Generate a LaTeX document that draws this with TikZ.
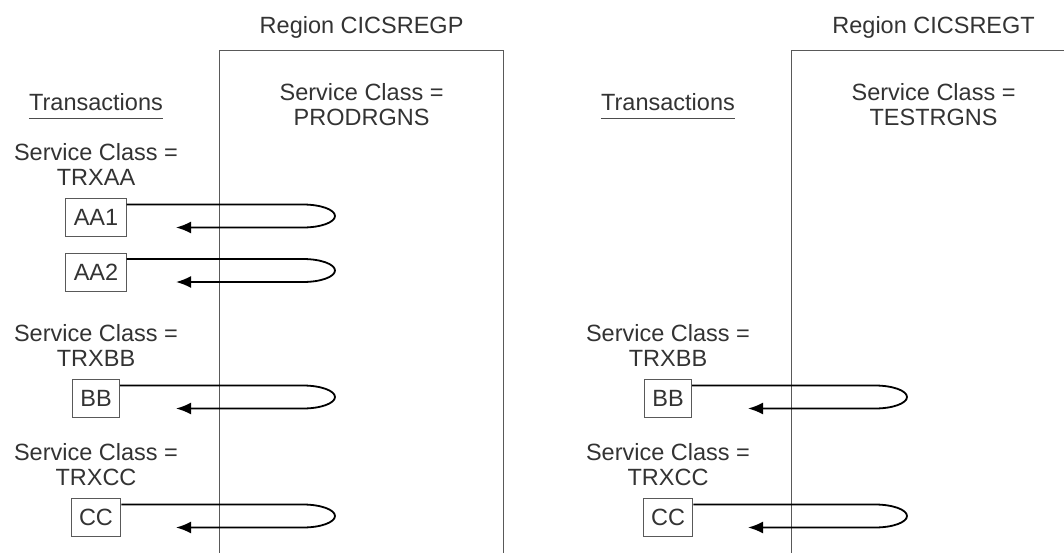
\documentclass[tikz,border=0pt]{standalone}
\usepackage{fontspec}
\setmainfont{Liberation Sans}
\usetikzlibrary{arrows.meta}

\begin{document}
\begin{tikzpicture}[x=1pt, y=1pt, node distance=53pt]
\tikzstyle{region} = [draw=black!65, line width=1.2pt, anchor=north west,
    minimum width=284pt, minimum height=540pt]
\tikzstyle{txt} = [text=black!80, font=\fontsize{23.5}{25}\selectfont, align=center]
\tikzstyle{head} = [txt, inner xsep=0pt, inner ysep=8pt]
\tikzstyle{txn} = [txt, draw=black!65, line width=1pt, minimum height=38pt, inner xsep=8pt]
\tikzstyle{back} = [draw, line width=1.8pt, -{Latex[length=15pt,width=12pt]}]

\useasboundingbox (0,0) rectangle (1064,-552);

 % regions
 \node [region] (regP) at (219,-50) {};
 \node [region] (regT) at (791,-50) {};
 \node [txt] (titleP) at ([yshift=23pt]regP.north) {Region CICSREGP};
 \node [txt] (titleT) at ([yshift=23pt]regT.north) {Region CICSREGT};
 \node [txt] (scP) at ([yshift=-55pt]regP.north) {Service Class =\\PRODRGNS};
 \node [txt] (scT) at ([yshift=-55pt]regT.north) {Service Class =\\TESTRGNS};

 \coordinate (turnP) at ([xshift=84pt]regP.north west);
 \coordinate (tipP) at ([xshift=-43pt]regP.north west);
 \coordinate (turnT) at ([xshift=84pt]regT.north west);
 \coordinate (tipT) at ([xshift=-43pt]regT.north west);

 % left column
 \node [head] (transP) at (96,-102) {Transactions};
 \node [txt, below of=transP, node distance=62.5pt] (scAA) {Service Class =\\TRXAA};
 \node [txn, below of=scAA] (aa1) {AA1};
 \node [txn, below of=aa1, node distance=54.5pt] (aa2) {AA2};
 \node [txt, below of=aa2, node distance=73.5pt] (scBB) {Service Class =\\TRXBB};
 \node [txn, below of=scBB] (bb) {BB};
 \node [txt, below of=bb, node distance=66.5pt] (scCC) {Service Class =\\TRXCC};
 \node [txn, below of=scCC, node distance=52.5pt] (cc) {CC};

 % right column
 \node [head] (transT) at (668,-102) {Transactions};
 \node [txt] (scBB2) at (668,-345.5) {Service Class =\\TRXBB};
 \node [txn, below of=scBB2] (bb2) {BB};
 \node [txt, below of=bb2, node distance=66.5pt] (scCC2) {Service Class =\\TRXCC};
 \node [txn, below of=scCC2, node distance=52.5pt] (cc2) {CC};

 \draw [black!70, line width=1pt] (transP.south west) -- (transP.south east);
 \draw [black!70, line width=1pt] (transT.south west) -- (transT.south east);

 \path [back] ([yshift=13pt]aa1.east) -- ([yshift=13pt]aa1.east -| turnP)
    arc [start angle=90, end angle=-90, x radius=32, y radius=11.5] -- ([yshift=-10pt]aa1.east -| tipP);
 \path [back] ([yshift=13pt]aa2.east) -- ([yshift=13pt]aa2.east -| turnP)
    arc [start angle=90, end angle=-90, x radius=32, y radius=11.5] -- ([yshift=-10pt]aa2.east -| tipP);
 \path [back] ([yshift=13pt]bb.east) -- ([yshift=13pt]bb.east -| turnP)
    arc [start angle=90, end angle=-90, x radius=32, y radius=11.5] -- ([yshift=-10pt]bb.east -| tipP);
 \path [back] ([yshift=13pt]cc.east) -- ([yshift=13pt]cc.east -| turnP)
    arc [start angle=90, end angle=-90, x radius=32, y radius=11.5] -- ([yshift=-10pt]cc.east -| tipP);

 \path [back] ([yshift=13pt]bb2.east) -- ([yshift=13pt]bb2.east -| turnT)
    arc [start angle=90, end angle=-90, x radius=32, y radius=11.5] -- ([yshift=-10pt]bb2.east -| tipT);
 \path [back] ([yshift=13pt]cc2.east) -- ([yshift=13pt]cc2.east -| turnT)
    arc [start angle=90, end angle=-90, x radius=32, y radius=11.5] -- ([yshift=-10pt]cc2.east -| tipT);
\end{tikzpicture}
\end{document}
